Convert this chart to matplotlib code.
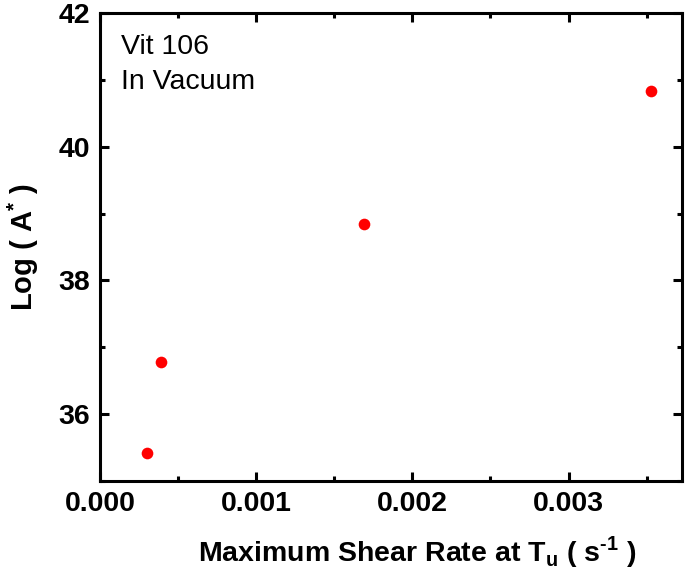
import matplotlib
matplotlib.use("Agg")
import matplotlib.pyplot as plt
from matplotlib.ticker import MultipleLocator, FormatStrFormatter

plt.rcParams['font.family'] = ['Liberation Sans', 'DejaVu Sans']
plt.rcParams['mathtext.fontset'] = 'custom'
plt.rcParams['mathtext.rm'] = 'Liberation Sans:bold'
plt.rcParams['mathtext.bf'] = 'Liberation Sans:bold'

shear_rate = [0.000303, 0.000390, 0.001692, 0.003526]
log_A = [35.415, 36.78, 38.84, 40.84]

x_ticks = [0.000, 0.001, 0.002, 0.003]
y_ticks = [36, 38, 40, 42]

fig = plt.figure(figsize=(6.85, 5.76), dpi=100)
ax = fig.add_axes([100/685, 1-481/576, (682-100)/685, (481-13)/576])

ax.plot(shear_rate, log_A, 'o', color='#ff0000', markersize=8.4, markeredgewidth=0)

ax.set_xlim(0, 0.003726)
ax.set_ylim(35, 42)
ax.set_xticks(x_ticks)
ax.set_yticks(y_ticks)
ax.xaxis.set_major_formatter(FormatStrFormatter('%.3f'))
ax.xaxis.set_minor_locator(MultipleLocator(0.0005))
ax.yaxis.set_minor_locator(MultipleLocator(1))

for s in ax.spines.values():
    s.set_linewidth(2.2)
ax.tick_params(which='both', direction='in', top=True, right=True, width=2.2)
ax.tick_params(which='major', length=6.3, labelsize=20.5, pad=7)
ax.tick_params(which='minor', length=3.5)
for lbl in ax.get_xticklabels() + ax.get_yticklabels():
    lbl.set_fontweight('bold')

ax.set_xlabel(r"Maximum Shear Rate at T$_\mathrm{u}$ ( s$^\text{-1}$ )", fontsize=20.5, fontweight='bold')
ax.xaxis.set_label_coords(0.545, -0.114)
ax.set_ylabel(r"Log ( A$^\mathrm{*}$ )", fontsize=21, fontweight='bold')
ax.yaxis.set_label_coords(-0.102, 0.5)

ax.text(0.036, 0.89, "Vit 106\nIn Vacuum", transform=ax.transAxes, fontsize=20.5,
        va='center', ha='left', linespacing=1.42)

fig.savefig("out.png", dpi=100)
